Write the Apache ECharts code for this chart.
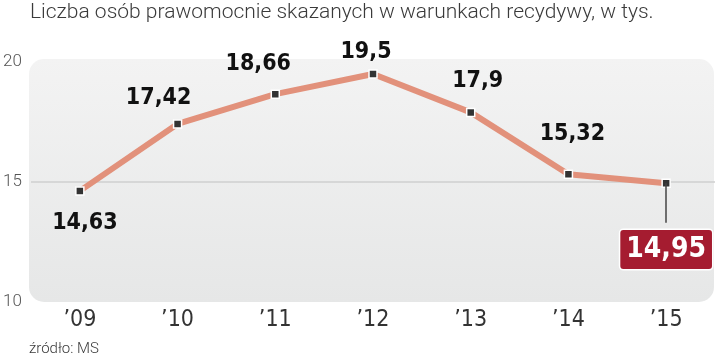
<!DOCTYPE html>
<html><head><meta charset="utf-8">
<script src="https://cdn.jsdelivr.net/npm/echarts@6/dist/echarts.min.js"></script>
<style>html,body{margin:0;padding:0;background:#fff}#c{width:720px;height:362px}</style>
</head><body><div id="c"></div>
<script>
const categories = ['’09','’10','’11','’12','’13','’14','’15'];
const values = [14.63, 17.42, 18.66, 19.5, 17.9, 15.32, 14.95];
const valueLabels = ['14,63','17,42','18,66','19,5','17,9','15,32','14,95'];
const yTicks = [10, 15, 20];
const labelOffsets = [[5,32],[-19,-26],[-17,-30],[-7,-22],[7,-31],[4,-40]];

const chart = echarts.init(document.getElementById('c'), null, {renderer:'canvas'});
const numFont = 'DejaVu Sans Condensed';
const data = values.map((v,i)=>{
  if (i === values.length-1) {
    return {value:v, label:{formatter: valueLabels[i], position:'bottom', distance:42,
      color:'#fff', fontSize:28, fontWeight:'bold', fontFamily:numFont,
      backgroundColor:'#a51c30', borderColor:'#fff', borderWidth:1.5, borderRadius:3,
      padding:[4,6,3,6], lineHeight:32}};
  }
  return {value:v, label:{formatter: valueLabels[i], position:'inside', offset:labelOffsets[i]}};
});
chart.setOption({
  animation:false,
  grid:{left:28, right:5, top:62, bottom:60},
  graphic:[
    {type:'rect', left:29, top:59, z:-10, shape:{width:685, height:243, r:15},
     style:{fill:new echarts.graphic.LinearGradient(0,0,0,1,[{offset:0,color:'#f3f3f3'},{offset:1,color:'#e6e7e7'}])}},
    {type:'text', left:30, top:2, style:{text:'Liczba osób prawomocnie skazanych w warunkach recydywy, w tys.', font:'300 21px Roboto', fill:'#3a3a3a'}},
    {type:'text', left:29, top:342, style:{text:'źródło: MS', font:'300 15px Roboto', fill:'#3a3a3a'}}
  ],
  xAxis:{type:'category', data:categories, boundaryGap:true,
    axisLine:{show:false}, axisTick:{show:false},
    axisLabel:{color:'#333', fontFamily:'DejaVu Sans Condensed', fontSize:23, margin:7}},
  yAxis:{type:'value', min:10, max:20, interval:5,
    axisLine:{show:false}, axisTick:{show:false},
    splitLine:{show:true, lineStyle:{color:['rgba(0,0,0,0)','#cfcfcf','rgba(0,0,0,0)'], width:1.5}},
    axisLabel:{color:'#555', fontFamily:'Roboto', fontWeight:300, fontSize:17, align:'left', margin:28,
      formatter:v=> yTicks.includes(v) ? String(v) : ''}},
  series:[{
    type:'line', data:data,
    lineStyle:{color:'#e2917b', width:6},
    symbol:'rect', symbolSize:8,
    itemStyle:{color:'#333', borderColor:'#fff', borderWidth:1.5},
    label:{show:true, color:'#111', fontSize:23, fontWeight:'bold', fontFamily:numFont},
    markLine:{silent:true, symbol:'none', label:{show:false},
      lineStyle:{color:'#444', width:1.5, type:'solid'},
      data:[[{coord:[categories.length-1, values[values.length-1]]},{coord:[categories.length-1, 13.3]}]]},
    z:3
  }]
});
</script></body></html>
